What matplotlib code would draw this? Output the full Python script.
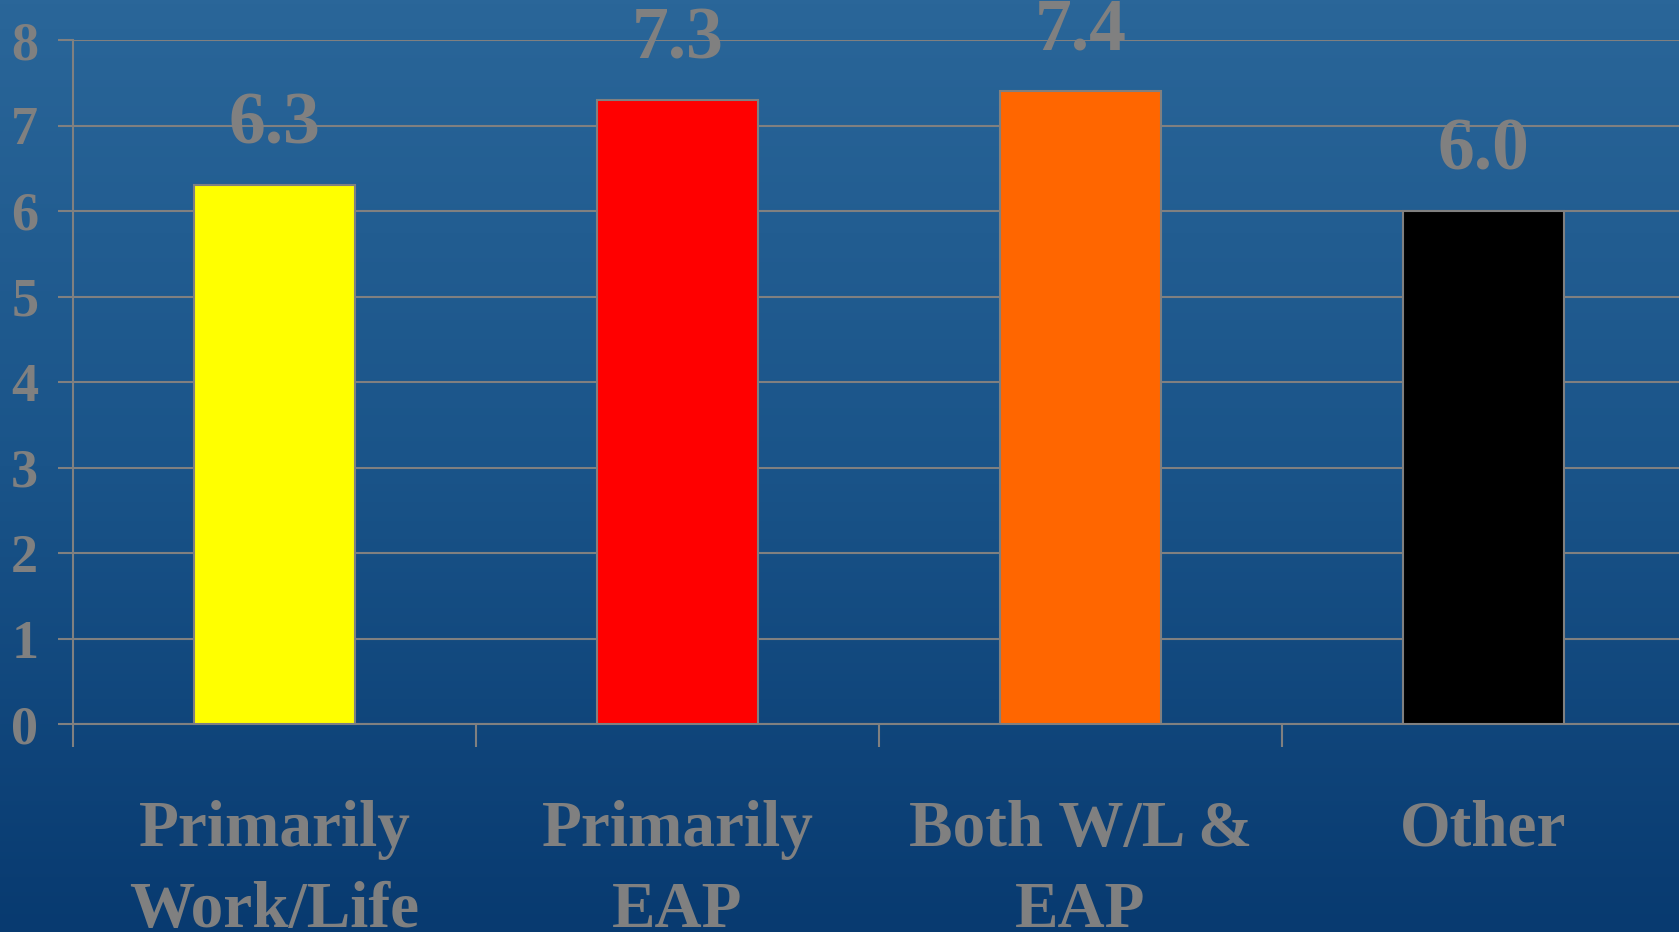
import numpy as np
import matplotlib

matplotlib.use("Agg")
import matplotlib.pyplot as plt
from matplotlib.colors import LinearSegmentedColormap
from matplotlib.transforms import blended_transform_factory

# chart data
categories = ["Primarily\nWork/Life", "Primarily\nEAP", "Both W/L &\nEAP", "Other"]
scores = [6.3, 7.3, 7.4, 6.0]
bar_colors = ["#FFFF00", "#FF0000", "#FF6600", "#000000"]
y_ticks = [0, 1, 2, 3, 4, 5, 6, 7, 8]

W, H, DPI = 1679, 932, 100
GRAY = "#808080"
SERIF = ["Liberation Serif", "DejaVu Serif"]

fig = plt.figure(figsize=(W / DPI, H / DPI), dpi=DPI)

# slide-style vertical gradient behind everything
bg = fig.add_axes([0, 0, 1, 1], zorder=-10)
grad_cmap = LinearSegmentedColormap.from_list("slide", ["#083A70", "#1A5489", "#2A6699"])
grad = np.linspace(0, 1, 256).reshape(-1, 1)
bg.imshow(grad, aspect="auto", cmap=grad_cmap, origin="lower", extent=[0, 1, 0, 1])
bg.set_axis_off()

# plot area: left axis at x=73px, zero line at y=724px, 8 at y=40px
left, right = 73, 73 + 4 * 403
top, bottom = 40, 724
ax = fig.add_axes([left / W, (H - bottom) / H, (right - left) / W, (bottom - top) / H])
ax.patch.set_alpha(0)

x = np.arange(len(categories))
ax.bar(x, scores, width=0.4, color=bar_colors, edgecolor=GRAY, linewidth=1.5, zorder=3)
ax.set_xlim(-0.5, len(categories) - 0.5)
ax.set_ylim(0, 8)

ax.set_yticks(y_ticks)
ax.yaxis.grid(True, color=GRAY, linewidth=1.5, zorder=0)
ax.tick_params(axis="y", length=11, width=1.5, color=GRAY, pad=14,
               labelsize=39, labelcolor=GRAY)
for lbl in ax.get_yticklabels():
    lbl.set_fontfamily(SERIF)
    lbl.set_fontweight("bold")

# x: only boundary ticks, labels drawn separately
ax.set_xticks([])
ax.set_xticks(np.arange(len(categories)) - 0.5, minor=True)
ax.tick_params(axis="x", which="minor", length=16.5, width=1.5, color=GRAY, direction="out")

for side in ("top", "right"):
    ax.spines[side].set_visible(False)
for side in ("left", "bottom"):
    ax.spines[side].set_color(GRAY)
    ax.spines[side].set_linewidth(1.5)

# value labels above each bar
for xi, v in zip(x, scores):
    ax.annotate(f"{v:.1f}", (xi, v), xytext=(0, 30), textcoords="offset points",
                ha="center", va="baseline", fontsize=53, fontweight="bold",
                color=GRAY, family=SERIF, zorder=4)

# category labels, one line at a time, below the axis
label_tf = blended_transform_factory(ax.transData, fig.transFigure)
base_px, line_px = 846, 81
for xi, name in zip(x, categories):
    for k, line in enumerate(name.split("\n")):
        yf = (H - (base_px + k * line_px)) / H
        ax.text(xi, yf, line, transform=label_tf,
                ha="center", va="baseline", fontsize=47, fontweight="bold",
                color=GRAY, family=SERIF, clip_on=False)

fig.savefig("out.png", dpi=DPI)
